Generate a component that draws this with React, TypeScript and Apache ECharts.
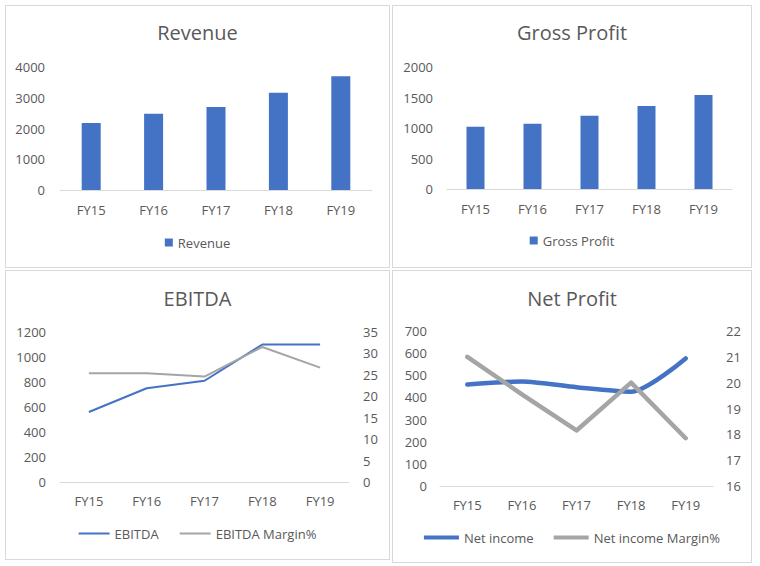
import React, { useEffect, useRef } from 'react';
import * as echarts from 'echarts';

const categories = ['FY15', 'FY16', 'FY17', 'FY18', 'FY19'];
const revenue = [2180, 2480, 2700, 3160, 3700];
const grossProfit = [1020, 1070, 1200, 1360, 1540];
const ebitda = [560, 750, 810, 1100, 1100];
const ebitdaMargin = [25.4, 25.4, 24.6, 31.5, 26.7];
const netIncome = [458, 472, 446, 426, 576];
const netIncomeMargin = [21.0, 19.55, 18.15, 20.0, 17.85];

const FONT = "'Open Sans', 'Noto Sans', sans-serif";
const TEXT = '#595959';
const AXIS = '#D9D9D9';
const BLUE = '#4472C4';
const GRAY = '#A5A5A5';

const titleOf = (text: string, top: number) => ({
  text,
  left: 'center',
  top,
  padding: 0,
  textStyle: { color: TEXT, fontSize: 20, fontWeight: 'normal', fontFamily: FONT },
});

const xAxisOf = (margin: number) => ({
  type: 'category',
  data: categories,
  axisLine: { lineStyle: { color: AXIS, width: 1 } },
  axisTick: { show: false },
  axisLabel: { color: TEXT, fontSize: 13, fontFamily: FONT, margin },
});

const yAxisOf = (min: number, max: number, interval: number, margin: number, position = 'left') => ({
  type: 'value',
  min,
  max,
  interval,
  position,
  axisLine: { show: false },
  axisTick: { show: false },
  splitLine: { show: false },
  axisLabel: { color: TEXT, fontSize: 13, fontFamily: FONT, margin, formatter: (v: number) => String(v) },
});

const legendOf = (names: string[], top: number, w: number, h: number, gap: number) => ({
  data: names,
  top,
  left: 'center',
  padding: 0,
  icon: 'rect',
  itemWidth: w,
  itemHeight: h,
  itemGap: gap,
  itemStyle: { borderWidth: 0 },
  textStyle: { color: TEXT, fontSize: 13, fontFamily: FONT },
});

const revenueOption = {
  animation: false,
  title: titleOf('Revenue', 16),
  legend: legendOf(['Revenue'], 230, 8, 8, 20),
  grid: { left: 54, right: 17, top: 61, bottom: 77 },
  xAxis: xAxisOf(13),
  yAxis: yAxisOf(0, 4000, 1000, 15),
  series: [{ type: 'bar', name: 'Revenue', data: revenue, barWidth: 19, itemStyle: { color: BLUE } }],
};

const grossOption = {
  animation: false,
  title: titleOf('Gross Profit', 16),
  legend: legendOf(['Gross Profit'], 228, 8, 8, 20),
  grid: { left: 54, right: 19, top: 61, bottom: 78 },
  xAxis: xAxisOf(13),
  yAxis: yAxisOf(0, 2000, 500, 14),
  series: [{ type: 'bar', name: 'Gross Profit', data: grossProfit, barWidth: 18, itemStyle: { color: BLUE } }],
};

const ebitdaOption = {
  animation: false,
  title: titleOf('EBITDA', 17),
  legend: legendOf(['EBITDA', 'EBITDA Margin%'], 256, 31, 2, 21),
  grid: { left: 54, right: 40, top: 61, bottom: 77 },
  xAxis: xAxisOf(12),
  yAxis: [yAxisOf(0, 1200, 200, 14, 'left'), yAxisOf(0, 35, 5, 14, 'right')],
  series: [
    { type: 'line', name: 'EBITDA', data: ebitda, yAxisIndex: 0, symbol: 'none', color: BLUE, lineStyle: { width: 2, color: BLUE } },
    { type: 'line', name: 'EBITDA Margin%', data: ebitdaMargin, yAxisIndex: 1, symbol: 'none', color: GRAY, lineStyle: { width: 2, color: GRAY } },
  ],
};

const netOption = {
  animation: false,
  title: titleOf('Net Profit', 17),
  legend: legendOf(['Net income', 'Net income Margin%'], 260, 35, 4, 20),
  grid: { left: 47, right: 38, top: 60, bottom: 76 },
  xAxis: xAxisOf(12),
  yAxis: [yAxisOf(0, 700, 100, 13, 'left'), yAxisOf(16, 22, 1, 13, 'right')],
  series: [
    { type: 'line', name: 'Net income', data: netIncome, yAxisIndex: 0, symbol: 'none', smooth: 0.25, color: BLUE, lineStyle: { width: 4.5, color: BLUE, cap: 'round', join: 'round' } },
    { type: 'line', name: 'Net income Margin%', data: netIncomeMargin, yAxisIndex: 1, symbol: 'none', color: GRAY, lineStyle: { width: 4.5, color: GRAY, cap: 'round', join: 'round' } },
  ],
};

type PanelProps = { l: number; t: number; r: number; b: number; option: any };

function Panel({ l, t, r, b, option }: PanelProps) {
  const ref = useRef<HTMLDivElement>(null);
  useEffect(() => {
    if (!ref.current) return;
    const chart = echarts.init(ref.current, null, { renderer: 'svg' });
    chart.setOption(option);
    return () => chart.dispose();
  }, [option]);
  return (
    <div
      ref={ref}
      style={{
        position: 'absolute',
        left: l,
        top: t,
        width: r - l + 1,
        height: b - t + 1,
        boxSizing: 'border-box',
        border: `1px solid ${AXIS}`,
        background: '#fff',
      }}
    />
  );
}

export default function App() {
  return (
    <div style={{ position: 'fixed', left: 0, top: 0, width: 760, height: 566, background: '#fff' }}>
      <Panel l={5} t={5} r={389} b={267} option={revenueOption} />
      <Panel l={392} t={5} r={751} b={267} option={grossOption} />
      <Panel l={5} t={270} r={389} b={559} option={ebitdaOption} />
      <Panel l={392} t={270} r={751} b={562} option={netOption} />
    </div>
  );
}
